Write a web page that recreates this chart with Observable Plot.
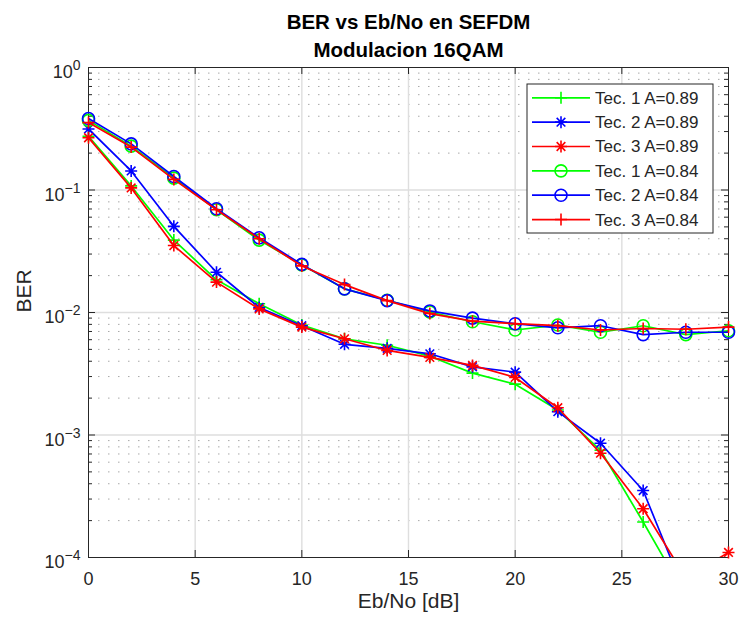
<!DOCTYPE html>
<html><head><meta charset="utf-8">
<script src="https://cdn.jsdelivr.net/npm/d3@7"></script>
<script src="https://cdn.jsdelivr.net/npm/@observablehq/plot@0.6"></script>
<style>body{margin:0;background:#fff}#chart{width:741px;height:622px}</style>
</head><body><div id="chart"></div>
<script>
// ---- data ----
const ebno = [0,2,4,6,8,10,12,14,16,18,20,22,24,26,28,30];
const tec1A089 = [0.275,0.108,0.039,0.0185,0.0118,0.0079,0.0061,0.0054,0.0044,0.0032,0.0026,0.0016,0.00075,0.000195,0.000048,0.00002];
const tec2A089 = [0.315,0.143,0.0505,0.0213,0.0110,0.0078,0.0055,0.0051,0.0046,0.0036,0.00326,0.00155,0.000857,0.000352,0.000049,0.00002];
const tec3A089 = [0.267,0.104,0.0352,0.0177,0.0107,0.0076,0.0061,0.0049,0.0043,0.0037,0.00295,0.00167,0.00071,0.00025,0.000068,0.00011];
const tec1A084 = [0.370,0.228,0.125,0.069,0.039,0.0245,0.0156,0.0126,0.0101,0.0084,0.0072,0.0079,0.0069,0.0078,0.0066,0.0071];
const tec2A084 = [0.383,0.238,0.129,0.0703,0.0407,0.0247,0.0156,0.0125,0.0103,0.0090,0.0081,0.0075,0.0078,0.0066,0.0069,0.0069];
const tec3A084 = [0.355,0.224,0.122,0.069,0.040,0.0240,0.0169,0.0125,0.0098,0.0085,0.0081,0.0078,0.0072,0.0074,0.0073,0.0076];

const seriesNames = ["Tec. 1 A=0.89","Tec. 2 A=0.89","Tec. 3 A=0.89","Tec. 1 A=0.84","Tec. 2 A=0.84","Tec. 3 A=0.84"];
const seriesValues = [tec1A089,tec2A089,tec3A089,tec1A084,tec2A084,tec3A084];
const seriesColors = ["#00ff00","#0000ff","#ff0000","#00ff00","#0000ff","#ff0000"];
const seriesMarkers = ["plus","asterisk","asterisk","circle","circle","plus"];

const xTicks = [0,5,10,15,20,25,30];
const xGrid = [5,10,15,20,25];
const yTicks = [1e-4,1e-3,1e-2,1e-1,1];
const yTickExp = {"0.0001":"\u22124","0.001":"\u22123","0.01":"\u22122","0.1":"\u22121","1":"0"};
const yGrid = [1e-3,1e-2,1e-1];
const decades = [1e-4,1e-3,1e-2,1e-1];
const mantissas = [2,3,4,5,6,7,8,9];
const yMinor = decades.flatMap(d => mantissas.map(m => +(m*d).toPrecision(3)));

// ---- layout ----
const W = 741, H = 622, mL = 88, mR = 13, mT = 67, mB = 65;
const fw = W - mL - mR, fh = H - mT - mB;
const axisColor = "#262626";

const symPlus = {draw(ctx, size){const r = Math.sqrt(size/Math.PI); ctx.moveTo(-r,0); ctx.lineTo(r,0); ctx.moveTo(0,-r); ctx.lineTo(0,r);}};
const symStar = {draw(ctx, size){const r = Math.sqrt(size/Math.PI), d = r*0.72;
  ctx.moveTo(-r,0); ctx.lineTo(r,0); ctx.moveTo(0,-r); ctx.lineTo(0,r);
  ctx.moveTo(-d,-d); ctx.lineTo(d,d); ctx.moveTo(-d,d); ctx.lineTo(d,-d);}};
const symbolFor = k => k === "plus" ? symPlus : k === "asterisk" ? symStar : d3.symbolCircle;

const seriesMarks = seriesNames.flatMap((name, i) => {
  const rows = ebno.map((x, j) => ({x, y: seriesValues[i][j]}));
  const visible = rows.filter(d => d.y >= 1e-4 && d.y <= 1);
  return [
    Plot.line(rows, {x:"x", y:"y", stroke: seriesColors[i], strokeWidth: 1.7, clip: true}),
    Plot.dot(visible, {x:"x", y:"y", symbol: symbolFor(seriesMarkers[i]), r: 6, fill:"none", stroke: seriesColors[i], strokeWidth: 1.6})
  ];
});

const chart = Plot.plot({
  width: W, height: H,
  marginLeft: mL, marginRight: mR, marginTop: mT, marginBottom: mB,
  style: {fontFamily: "'Liberation Sans', Arial, Helvetica, sans-serif", background: "white", overflow: "visible"},
  x: {domain: [0, 30]},
  y: {type: "log", domain: [1e-4, 1]},
  marks: [
    Plot.ruleY(yMinor, {y: d => d, stroke: "#a8a8a8", strokeWidth: 1, strokeDasharray: "1.5,8.5"}),
    Plot.ruleX(xGrid, {x: d => d, stroke: "#dedede", strokeWidth: 1.4}),
    Plot.ruleY(yGrid, {y: d => d, stroke: "#dedede", strokeWidth: 1.4}),
    Plot.tickX(xTicks, {x: d => d, insetTop: fh - 7, stroke: axisColor}),
    Plot.tickX(xTicks, {x: d => d, insetBottom: fh - 7, stroke: axisColor}),
    Plot.tickY(yTicks, {y: d => d, insetRight: fw - 7, stroke: axisColor}),
    Plot.tickY(yTicks, {y: d => d, insetLeft: fw - 7, stroke: axisColor}),
    Plot.tickY(yMinor, {y: d => d, insetRight: fw - 4, stroke: axisColor}),
    Plot.tickY(yMinor, {y: d => d, insetLeft: fw - 4, stroke: axisColor}),
    Plot.frame({stroke: axisColor, strokeWidth: 1}),
    Plot.axisX(xTicks, {anchor: "bottom", tickSize: 0, tickPadding: 15, fontSize: 18, fill: axisColor, label: null, tickFormat: d => String(d)}),
    Plot.axisY(yTicks, {anchor: "left", tickSize: 0, tickPadding: 8, fontSize: 18, fill: axisColor, label: null, dy: 5, tickFormat: d => "10^" + yTickExp[String(d)]}),
    ...seriesMarks,
    Plot.text(["BER vs Eb/No en SEFDM"], {frameAnchor: "top", lineAnchor: "middle", dy: -45.3, fontWeight: "bold", fontSize: 20.5, fill: "black"}),
    Plot.text(["Modulacion 16QAM"], {frameAnchor: "top", lineAnchor: "middle", dy: -17.3, fontWeight: "bold", fontSize: 20.5, fill: "black"}),
    Plot.text(["Eb/No [dB]"], {frameAnchor: "bottom", lineAnchor: "middle", dy: 44, fontSize: 21, fill: axisColor}),
    Plot.text(["BER"], {frameAnchor: "left", lineAnchor: "middle", dx: -64.7, rotate: -90, fontSize: 21, fill: axisColor})
  ]
});
document.getElementById("chart").appendChild(chart);

// superscript exponents on y tick labels
chart.querySelectorAll("text").forEach(t => {
  const s = t.textContent;
  if (/^10\^/.test(s)) {
    const exp = s.slice(3);
    t.textContent = "";
    const ns = "http://www.w3.org/2000/svg";
    const a = document.createElementNS(ns, "tspan"); a.textContent = "10";
    const b = document.createElementNS(ns, "tspan"); b.textContent = exp;
    b.setAttribute("dy", "-8"); b.setAttribute("font-size", "14");
    t.appendChild(a); t.appendChild(b);
  }
});

// legend
const svg = d3.select(chart);
const lg = svg.append("g").attr("class", "legend");
lg.append("rect").attr("x", 527).attr("y", 84).attr("width", 186).attr("height", 149)
  .attr("fill", "white").attr("stroke", axisColor).attr("stroke-width", 1);
seriesNames.forEach((name, i) => {
  const cy = 97.8 + i * 24.35;
  lg.append("line").attr("x1", 532).attr("x2", 590).attr("y1", cy).attr("y2", cy)
    .attr("stroke", seriesColors[i]).attr("stroke-width", 1.7);
  lg.append("path").attr("transform", `translate(561,${cy})`)
    .attr("d", d3.symbol(symbolFor(seriesMarkers[i]), Math.PI * 36)())
    .attr("fill", "none").attr("stroke", seriesColors[i]).attr("stroke-width", 1.6);
  lg.append("text").attr("x", 595).attr("y", cy).attr("dy", "0.35em")
    .attr("text-anchor", "start").attr("font-size", 17).attr("fill", axisColor).text(name);
});
</script></body></html>
